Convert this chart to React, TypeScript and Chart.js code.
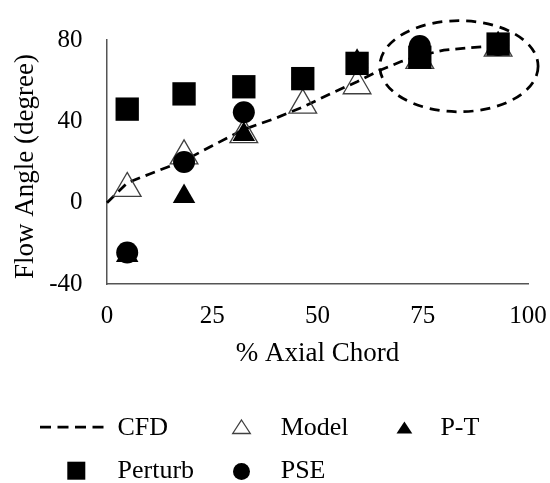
import React, { useEffect, useRef } from 'react';
import { Chart, registerables } from 'chart.js';

Chart.register(...registerables);

// Measurement stations along the blade (% axial chord)
const stations = [4.8, 18.3, 32.5, 46.5, 59.4, 74.3, 92.9];

// Flow angle (degree) at each station, per method
const modelAngle = [7, 23, 33.5, 48, 57.5, 70, 76];
const ptAngle = [-26, 3, 33.5, 60, 69.5, 70, 78];
const perturbAngle = [46, 53.5, 57, 61, 68.5, 71.5, 78];
const pseAngle = [-24.5, 20, 44.5, 61, 68.5, 77, 77.5];

// CFD reference curve
const cfdChord = [0, 4.8, 10, 18.3, 25, 32.5, 40, 46.5, 53, 59.4, 65, 70, 74.3, 80, 86, 92.9];
const cfdAngle = [0, 9.7, 14, 20.6, 28, 36, 41.5, 47, 53.5, 59.5, 65.3, 69.5, 72.3, 75, 76.2, 77.3];

// Axis ticks
const xTicks = [0, 25, 50, 75, 100];
const yTicks = [-40, 0, 40, 80];

// Axis titles
const xTitle = '% Axial Chord';
const yTitle = 'Flow Angle (degree)';

// Highlighted rear region (data units)
const ringCenter = { x: 83.6, y: 67.1 };
const ringRadius = { x: 18.8, y: 22.4 };

const SERIF = "'Liberation Serif', 'Times New Roman', serif";
const AXIS_GREY = '#555555';
const OUTLINE_GREY = '#404040';

const pairs = (xs: number[], ys: number[]) => xs.map((x, i) => ({ x, y: ys[i] }));

// Dashed ellipse around the trailing stations
const ringPlugin = {
  id: 'ring',
  afterDraw(chart: any) {
    const { ctx, scales } = chart;
    const xs = scales.x;
    const ys = scales.y;
    const cx = xs.getPixelForValue(ringCenter.x);
    const cy = ys.getPixelForValue(ringCenter.y);
    const rx = Math.abs(xs.getPixelForValue(ringCenter.x + ringRadius.x) - cx);
    const ry = Math.abs(ys.getPixelForValue(ringCenter.y + ringRadius.y) - cy);
    ctx.save();
    ctx.strokeStyle = '#000';
    ctx.lineWidth = 2.75;
    ctx.setLineDash([10, 7]);
    ctx.beginPath();
    ctx.ellipse(cx, cy, rx, ry, 0, 0, Math.PI * 2);
    ctx.stroke();
    ctx.restore();
  },
};

// Vertical axis title, set slightly below the plot's middle
const yTitlePlugin = {
  id: 'yTitle',
  afterDraw(chart: any) {
    const { ctx, chartArea } = chart;
    const mid = (chartArea.top + chartArea.bottom) / 2 + 4.5;
    ctx.save();
    ctx.translate(26.2, mid);
    ctx.rotate(-Math.PI / 2);
    ctx.font = `27px ${SERIF}`;
    ctx.fillStyle = '#000';
    ctx.textAlign = 'center';
    ctx.textBaseline = 'middle';
    ctx.fillText(yTitle, 0, 0);
    ctx.restore();
  },
};

// Two-row key under the plot
const keyPlugin = {
  id: 'seriesKey',
  afterDraw(chart: any) {
    const ctx = chart.ctx;
    const names = chart.data.datasets.map((d: any) => d.label);
    ctx.save();
    ctx.font = `26px ${SERIF}`;
    ctx.fillStyle = '#000';
    ctx.textAlign = 'left';
    ctx.textBaseline = 'alphabetic';

    // CFD dashed swatch
    ctx.strokeStyle = '#000';
    ctx.lineWidth = 2.75;
    ctx.setLineDash([11, 6.5]);
    ctx.beginPath();
    ctx.moveTo(40, 427);
    ctx.lineTo(104, 427);
    ctx.stroke();
    ctx.setLineDash([]);
    ctx.fillText(names[0], 117.5, 435);

    // Model open triangle
    ctx.strokeStyle = OUTLINE_GREY;
    ctx.lineWidth = 1.3;
    ctx.beginPath();
    ctx.moveTo(241.5, 420);
    ctx.lineTo(250.3, 433.5);
    ctx.lineTo(232.7, 433.5);
    ctx.closePath();
    ctx.stroke();
    ctx.fillText(names[1], 280.7, 435);

    // P-T filled triangle
    ctx.beginPath();
    ctx.moveTo(404.4, 421.5);
    ctx.lineTo(412.3, 433.5);
    ctx.lineTo(396.5, 433.5);
    ctx.closePath();
    ctx.fill();
    ctx.fillText(names[2], 440.4, 435);

    // Perturb square
    ctx.fillRect(67.3, 461.7, 18, 18);
    ctx.fillText(names[3], 117.5, 478.3);

    // PSE circle
    ctx.beginPath();
    ctx.arc(241.5, 471.5, 8.5, 0, Math.PI * 2);
    ctx.fill();
    ctx.fillText(names[4], 280.7, 478.3);

    ctx.restore();
  },
};

export default function App() {
  const canvasRef = useRef<HTMLCanvasElement | null>(null);

  useEffect(() => {
    const canvas = canvasRef.current;
    if (!canvas) return;

    const chart = new Chart(canvas, {
      type: 'scatter',
      data: {
        datasets: [
          {
            label: 'CFD',
            data: pairs(cfdChord, cfdAngle),
            showLine: true,
            borderColor: '#000',
            borderWidth: 2.75,
            borderDash: [10, 6],
            pointRadius: 0,
            tension: 0,
            fill: false,
            order: 5,
            clip: false,
          },
          {
            label: 'Model',
            data: pairs(stations, modelAngle),
            pointStyle: 'triangle',
            pointRadius: 16,
            backgroundColor: 'rgba(0,0,0,0)',
            borderColor: OUTLINE_GREY,
            borderWidth: 1.3,
            order: 4,
            clip: false,
          },
          {
            label: 'P-T',
            data: pairs(stations, ptAngle),
            pointStyle: 'triangle',
            pointRadius: 13,
            backgroundColor: '#000',
            borderColor: '#000',
            borderWidth: 0,
            order: 3,
            clip: false,
          },
          {
            label: 'Perturb',
            data: pairs(stations, perturbAngle),
            pointStyle: 'rect',
            pointRadius: 16.5,
            backgroundColor: '#000',
            borderColor: '#000',
            borderWidth: 0,
            order: 2,
            clip: false,
          },
          {
            label: 'PSE',
            data: pairs(stations, pseAngle),
            pointStyle: 'circle',
            pointRadius: 11,
            backgroundColor: '#000',
            borderColor: '#000',
            borderWidth: 0,
            order: 1,
            clip: false,
          },
        ],
      },
      options: {
        responsive: false,
        animation: false,
        events: [],
        layout: { padding: { left: 10, right: 22, top: 40, bottom: 112.8 } },
        plugins: {
          legend: { display: false },
          tooltip: { enabled: false },
        },
        scales: {
          x: {
            type: 'linear',
            min: xTicks[0],
            max: xTicks[xTicks.length - 1],
            afterBuildTicks: (scale: any) => {
              scale.ticks = xTicks.map((v) => ({ value: v }));
            },
            afterFit: (scale: any) => {
              scale.height = 86.2;
              scale.paddingLeft = 0;
              scale.paddingRight = 0;
            },
            grid: { display: false, drawTicks: false },
            border: { display: true, color: AXIS_GREY, width: 1.5 },
            ticks: {
              padding: 17,
              color: '#000',
              font: { family: SERIF, size: 25 },
            },
            title: {
              display: true,
              text: xTitle,
              color: '#000',
              padding: 0,
              font: { family: SERIF, size: 27 },
            },
          },
          y: {
            type: 'linear',
            min: yTicks[0],
            max: yTicks[yTicks.length - 1],
            afterBuildTicks: (scale: any) => {
              scale.ticks = yTicks.map((v) => ({ value: v }));
            },
            afterFit: (scale: any) => {
              scale.width = 97;
              scale.paddingTop = 0;
              scale.paddingBottom = 0;
            },
            grid: { display: false, drawTicks: false },
            border: { display: true, color: AXIS_GREY, width: 1.5 },
            ticks: {
              padding: 24.5,
              color: '#000',
              font: { family: SERIF, size: 25 },
            },
            title: { display: false },
          },
        },
      },
      plugins: [ringPlugin, yTitlePlugin, keyPlugin],
    } as any);

    return () => chart.destroy();
  }, []);

  return (
    <div style={{ position: 'fixed', left: 0, top: 0, width: 550, height: 483, background: '#fff' }}>
      <canvas ref={canvasRef} width={550} height={483} style={{ width: 550, height: 483, display: 'block' }} />
    </div>
  );
}
